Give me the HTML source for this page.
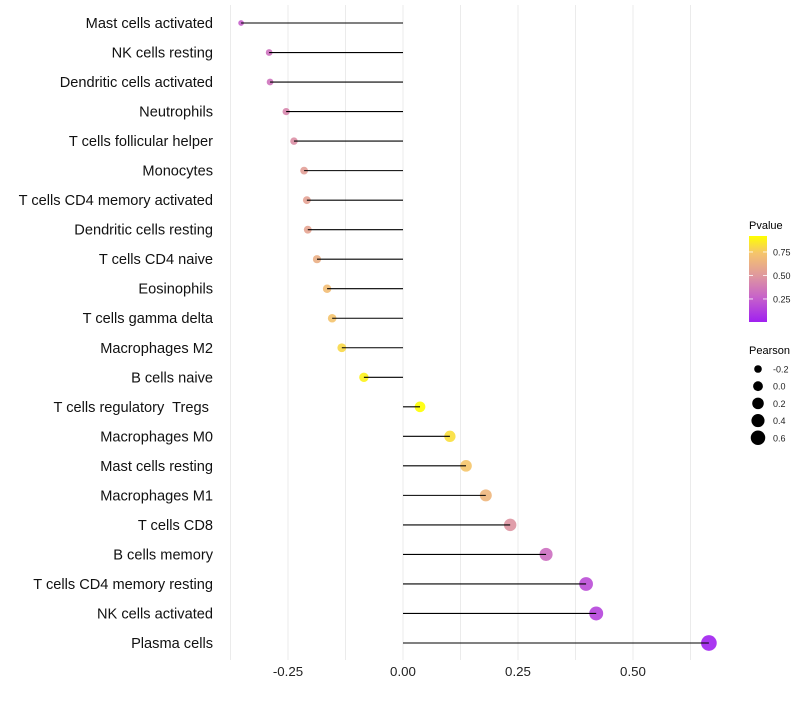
<!DOCTYPE html>
<html><head><meta charset="utf-8"><style>
body{margin:0;background:#fff;font-family:"Liberation Sans",sans-serif;}
svg text{font-family:"Liberation Sans",sans-serif;white-space:pre;}
</style></head><body>
<svg id="chart" width="800" height="700" xmlns="http://www.w3.org/2000/svg">
<defs><linearGradient id="pg" x1="0" y1="1" x2="0" y2="0">
<stop offset="0" stop-color="#a020f0"/><stop offset="0.3" stop-color="#c865c8"/>
<stop offset="0.55" stop-color="#e09a9c"/><stop offset="0.8" stop-color="#f5c46c"/>
<stop offset="1" stop-color="#ffff00"/></linearGradient></defs>
<g id="grid"></g>
<g id="marks"></g>
<g id="ylabels"></g>
<g id="xlabels"></g>
<g>
<text x="749" y="229" font-size="11">Pvalue</text>
<rect x="749" y="236" width="18" height="86" fill="url(#pg)"/>
<g id="cbticks"></g>
</g>
<g id="sizeleg">
<text x="749" y="354" font-size="11">Pearson</text>
</g>
</svg>
<script>
const categories=["Mast cells activated","NK cells resting","Dendritic cells activated","Neutrophils","T cells follicular helper","Monocytes","T cells CD4 memory activated","Dendritic cells resting","T cells CD4 naive","Eosinophils","T cells gamma delta","Macrophages M2","B cells naive","T cells regulatory  Tregs ","Macrophages M0","Mast cells resting","Macrophages M1","T cells CD8","B cells memory","T cells CD4 memory resting","NK cells activated","Plasma cells"];
const pearson=[-0.352,-0.291,-0.289,-0.254,-0.237,-0.215,-0.209,-0.207,-0.187,-0.165,-0.154,-0.133,-0.085,0.037,0.102,0.137,0.180,0.233,0.311,0.398,0.420,0.665];
const pvalue=[0.26,0.33,0.34,0.42,0.46,0.53,0.55,0.56,0.62,0.70,0.73,0.80,0.88,0.92,0.82,0.74,0.66,0.48,0.32,0.18,0.15,0.01];
const xTicks=[-0.25,0,0.25,0.5];
const xTickLabels=["-0.25","0.00","0.25","0.50"];
const cbTicks=[0.25,0.5,0.75];
const sizeTicks=[-0.2,0,0.2,0.4,0.6];
const NS="http://www.w3.org/2000/svg";
function x(v){return 403+v*460;}
function y(i){return 23+i*(620/21);}
const pMin=0.005,pMax=0.92;
function cy(v){return 322-(v-pMin)/(pMax-pMin)*86;}
const stops=[[0,[160,32,240]],[0.3,[200,101,200]],[0.55,[224,154,156]],[0.8,[245,196,108]],[1,[255,255,0]]];
function col(v){let t=Math.max(0,Math.min(1,(v-pMin)/(pMax-pMin)));for(let k=1;k<stops.length;k++){if(t<=stops[k][0]){const a=stops[k-1],b=stops[k],f=(t-a[0])/(b[0]-a[0]);return "rgb("+a[1].map((c,j)=>Math.round(c+(b[1][j]-c)*f)).join(",")+")";}}return "rgb(255,255,0)";}
function r(p){return 1.12*Math.sqrt(Math.max(2.25,9+(p+0.29)*41.9));}
function mk(tag,attrs,parent){const e=document.createElementNS(NS,tag);for(const k in attrs)e.setAttribute(k,attrs[k]);parent.appendChild(e);return e;}
const grid=document.getElementById('grid');
for(let v=-0.375;v<=0.63;v+=0.125){const l=mk('line',{x1:x(v),x2:x(v),y1:5,y2:660,stroke:'#ebebeb','stroke-width':1},grid);}
const marks=document.getElementById('marks'),yl=document.getElementById('ylabels');
categories.forEach((c,i)=>{
 const pt=mk('circle',{cx:x(pearson[i]),cy:y(i),r:r(pearson[i]),fill:col(pvalue[i]),'fill-opacity':0.9},marks);
 
 
 const ln=mk('line',{x1:x(0),x2:x(pearson[i]),y1:y(i),y2:y(i),stroke:'#000','stroke-width':1.1},marks);
 
 
 const t=mk('text',{x:213,y:y(i)+5,'text-anchor':'end','font-size':14.6,fill:'#111'},yl);t.textContent=c;
 
 
});
const xl=document.getElementById('xlabels');
xTicks.forEach((v,i)=>{const t=mk('text',{x:x(v),y:676,'text-anchor':'middle','font-size':13.3,fill:'#222'},xl);t.textContent=xTickLabels[i];
 
 });
const cb=document.getElementById('cbticks');
cbTicks.forEach(v=>{const yy=cy(v);
 mk('line',{x1:749,x2:753,y1:yy,y2:yy,stroke:'#fff','stroke-width':0.8},cb);
 mk('line',{x1:763,x2:767,y1:yy,y2:yy,stroke:'#fff','stroke-width':0.8},cb);
 const t=mk('text',{x:773,y:yy+3.5,'font-size':9,fill:'#222'},cb);t.textContent=v.toFixed(2);
 
 });
const sl=document.getElementById('sizeleg');
sizeTicks.forEach((v,i)=>{const yy=369+i*17.2;
 const c=mk('circle',{cx:758,cy:yy,r:r(v)*0.95,fill:'#000'},sl);
 
 
 const t=mk('text',{x:773,y:yy+3.5,'font-size':9,fill:'#222'},sl);t.textContent=v.toFixed(1);
 
 });
</script>
</body></html>
